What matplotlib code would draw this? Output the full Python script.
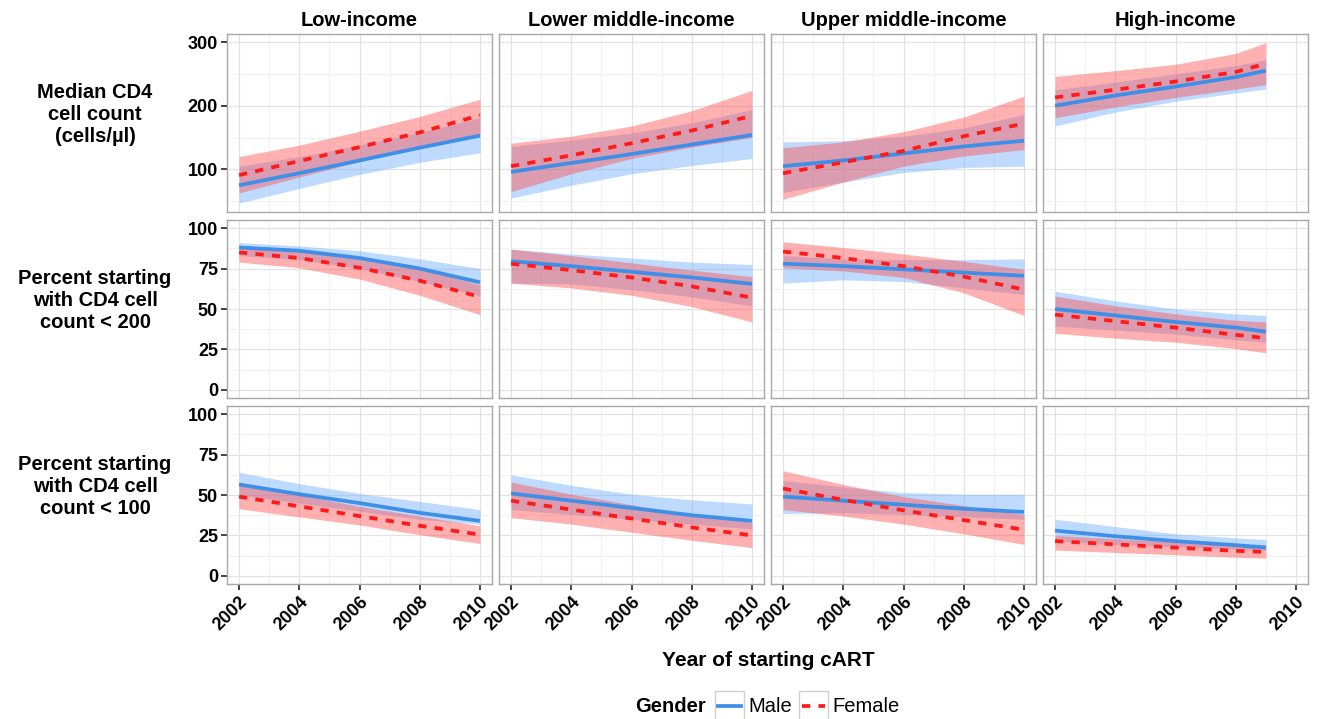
import matplotlib
matplotlib.use("Agg")
import matplotlib.pyplot as plt
from matplotlib.lines import Line2D
from matplotlib.patches import Rectangle
from matplotlib.ticker import MultipleLocator

plt.rcParams['font.family'] = ['Liberation Sans', 'DejaVu Sans']

incomes = ["Low-income", "Lower middle-income", "Upper middle-income", "High-income"]
row_labels = ["Median CD4\ncell count\n(cells/\u00b5l)",
              "Percent starting\nwith CD4 cell\ncount < 200",
              "Percent starting\nwith CD4 cell\ncount < 100"]
years = [2002, 2004, 2006, 2008, 2010]
years_high = [2002, 2004, 2006, 2008, 2009]
x_ticks = [2002, 2004, 2006, 2008, 2010]

# median CD4 count, one list per income group
median_male = [[75, 94, 114, 134, 153], [96, 110, 124, 139, 154],
               [105, 114, 125, 136, 145], [200, 216, 230, 245, 255]]
median_male_lo = [[47, 70, 92, 111, 126], [55, 75, 93, 106, 117],
                  [64, 80, 95, 103, 105], [168, 190, 207, 220, 226]]
median_male_hi = [[105, 120, 138, 158, 181], [136, 146, 157, 173, 194],
                  [143, 145, 152, 165, 186], [225, 237, 250, 263, 272]]
median_female = [[91, 113, 135, 158, 185], [105, 122, 141, 161, 184],
                 [94, 111, 129, 152, 172], [213, 225, 238, 253, 266]]
median_female_lo = [[63, 88, 112, 134, 155], [65, 93, 117, 135, 150],
                    [53, 80, 105, 121, 131], [181, 198, 213, 226, 233]]
median_female_hi = [[120, 138, 160, 183, 210], [141, 152, 168, 192, 224],
                    [134, 143, 159, 182, 215], [246, 255, 265, 282, 299]]

# percent starting with CD4 < 200
lt200_male = [[88, 86, 81.5, 75, 66.5], [79.5, 76.5, 73, 69.5, 65.5],
              [78, 76.5, 74.5, 72.5, 70.5], [50, 46, 42, 38.5, 36]]
lt200_male_lo = [[83, 80.5, 75, 67, 58], [66, 65.5, 62, 57.5, 52],
                 [66, 68, 67, 63, 59], [39.5, 37, 34.5, 31, 29.5]]
lt200_male_hi = [[91, 89, 86, 81, 75], [87, 84, 81.5, 79, 77.5],
                 [83, 81, 80.5, 80.5, 81], [61, 55, 50, 47, 46]]
lt200_female = [[85, 81.5, 75.5, 67.5, 57.5], [78, 74, 69.5, 64, 57],
                [85.5, 81.5, 76.5, 70, 62], [46.5, 42.5, 38.5, 34, 32]]
lt200_female_lo = [[79, 75.5, 68.5, 58.5, 46.5], [66, 63, 58.5, 51.5, 42],
                   [75.5, 73.5, 69.5, 60, 46], [35, 32, 29.5, 25.5, 23]]
lt200_female_hi = [[88, 86, 82, 75, 65], [87, 83, 78.5, 74, 70],
                   [91.5, 88, 84, 79.5, 74.5], [58, 52, 47, 43, 42]]

# percent starting with CD4 < 100
lt100_male = [[56.5, 50.5, 45, 39, 34], [51, 46.5, 42, 37.5, 34],
              [49, 46.5, 44, 41.5, 39.5], [28, 24.5, 21.5, 19, 17.5]]
lt100_male_lo = [[50, 45, 40, 35, 32], [41, 38, 35, 32, 29],
                 [38.5, 39, 38, 36.5, 35], [21.5, 19.5, 18, 16.5, 16]]
lt100_male_hi = [[64, 57, 51, 46, 41], [62.5, 56, 50.5, 47, 44.5],
                 [59, 55, 51.5, 50.5, 50.5], [35, 30.5, 26, 23.5, 22.5]]
lt100_female = [[49, 43, 37, 31, 25.5], [46.5, 41, 35.5, 30, 25],
                [54, 47, 40.5, 34.5, 28.5], [21.5, 19.5, 17.5, 15.5, 14.8]]
lt100_female_lo = [[41.5, 36.5, 31.5, 25.5, 20], [36, 32, 27, 22, 17.5],
                   [41, 37, 32, 26, 19.5], [16, 14.5, 13, 11.5, 11]]
lt100_female_hi = [[57, 50, 43, 37, 31], [58, 50.5, 44, 38, 33],
                   [65, 56.5, 49, 43.5, 38], [25, 23, 21, 19.5, 19.5]]

rows = [
    (median_male, median_male_lo, median_male_hi, median_female, median_female_lo, median_female_hi),
    (lt200_male, lt200_male_lo, lt200_male_hi, lt200_female, lt200_female_lo, lt200_female_hi),
    (lt100_male, lt100_male_lo, lt100_male_hi, lt100_female, lt100_female_lo, lt100_female_hi),
]
row_ylims = [(33, 312.6), (-5, 105), (-5, 105)]
row_yticks = [[100, 200, 300], [0, 25, 50, 75, 100], [0, 25, 50, 75, 100]]
row_minor = [50, 12.5, 12.5]

male_col = "#3d8fe8"
female_col = "#ff1a1a"
dash = (2.2, 2.2)

W, H = 1320, 719
fig = plt.figure(figsize=(W / 100, H / 100), dpi=100)

col_left = [227, 499, 771, 1043]
row_top = [34, 220, 406]
pw, ph = 265, 178

for r in range(3):
    m, m_lo, m_hi, f, f_lo, f_hi = rows[r]
    for c in range(4):
        ax = fig.add_axes([col_left[c] / W, 1 - (row_top[r] + ph) / H, pw / W, ph / H])
        yrs = years_high if c == 3 else years
        ax.fill_between(yrs, m_lo[c], m_hi[c], color="#66aaff", alpha=0.42, lw=0)
        ax.fill_between(yrs, f_lo[c], f_hi[c], color="#ff5050", alpha=0.45, lw=0)
        ax.plot(yrs, m[c], color=male_col, lw=2.7, solid_capstyle="butt")
        ax.plot(yrs, f[c], color=female_col, lw=2.7, dashes=dash)

        ax.set_xlim(2001.6, 2010.4)
        ax.set_ylim(*row_ylims[r])
        ax.set_xticks(x_ticks)
        ax.set_yticks(row_yticks[r])
        ax.xaxis.set_minor_locator(MultipleLocator(1))
        ax.yaxis.set_minor_locator(MultipleLocator(row_minor[r]))
        ax.grid(which="major", color="#e3e3e3", lw=0.9)
        ax.grid(which="minor", color="#f1f1f1", lw=0.7)
        ax.set_axisbelow(True)
        for s in ax.spines.values():
            s.set_color("#a8a8a8")
            s.set_linewidth(1.0)
        ax.tick_params(which="minor", length=0)
        ax.tick_params(which="major", length=4.5, width=1.2, color="#222222",
                       labelsize=13, pad=2)

        if c == 0:
            for lab in ax.get_yticklabels():
                lab.set_fontweight("bold")
        else:
            ax.tick_params(axis="y", length=0, labelleft=False)
        if r == 2:
            ax.set_xticklabels([str(t) for t in x_ticks], rotation=45, ha="right",
                               rotation_mode="anchor", fontweight="bold")
        else:
            ax.tick_params(axis="x", length=0, labelbottom=False)
        if r == 0:
            ax.set_title(incomes[c], fontsize=14.5, fontweight="bold", pad=6)

for r in range(3):
    yc = row_top[r] + 80
    fig.text(95 / W, 1 - yc / H, row_labels[r], ha="center", va="center",
             fontsize=14.5, fontweight="bold", linespacing=1.2)

fig.text(768 / W, 1 - 660 / H, "Year of starting cART", ha="center", va="center",
         fontsize=15, fontweight="bold")

# legend drawn by hand, ggplot style with boxed keys
ly = 1 - 706 / H
fig.text(706 / W, ly, "Gender", ha="right", va="center", fontsize=14.5, fontweight="bold")
keys = [(715, male_col, None, "Male"), (799, female_col, dash, "Female")]
for kx, col, ds, lab in keys:
    fig.add_artist(Rectangle((kx / W, 1 - 721 / H), 29 / W, 30 / H, transform=fig.transFigure,
                             facecolor="white", edgecolor="#d0d0d0", lw=1.0))
    ln = Line2D([(kx + 3) / W, (kx + 26) / W], [ly, ly], transform=fig.transFigure,
                color=col, lw=2.7)
    if ds:
        ln.set_dashes(ds)
    fig.add_artist(ln)
    fig.text((kx + 33) / W, ly, lab, ha="left", va="center", fontsize=14.5)

fig.savefig("out.png", dpi=100)
